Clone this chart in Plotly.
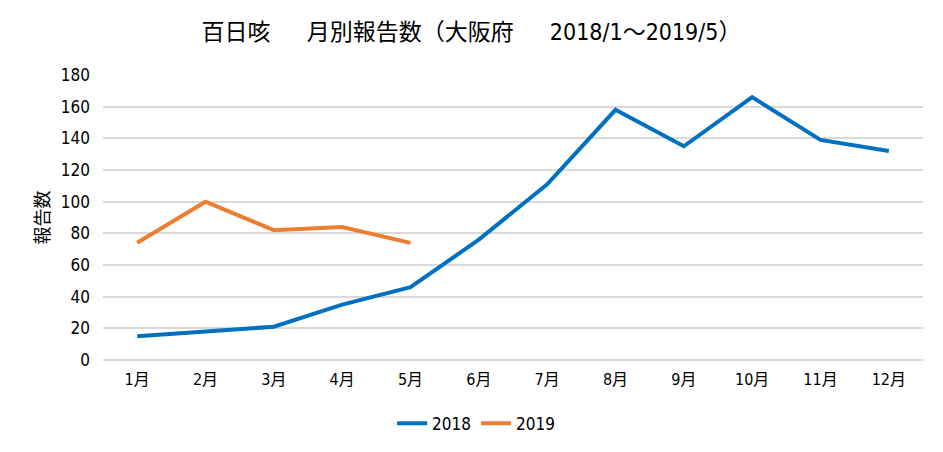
import plotly.graph_objects as go

months = ["1月", "2月", "3月", "4月", "5月", "6月", "7月", "8月", "9月", "10月", "11月", "12月"]
cases_2018 = [15, 18, 21, 35, 46, 76, 111, 158, 135, 166, 139, 132]
months_2019 = ["1月", "2月", "3月", "4月", "5月"]
cases_2019 = [74, 100, 82, 84, 74]
y_ticks = [0, 20, 40, 60, 80, 100, 120, 140, 160, 180]

FONT = "Liberation Sans Narrow, DejaVu Sans Condensed, Noto Sans CJK JP"

fig = go.Figure()
fig.add_trace(go.Scatter(x=months, y=cases_2018, name="2018", mode="lines",
                         line=dict(color="#0070C0", width=4)))
fig.add_trace(go.Scatter(x=months_2019, y=cases_2019, name="2019", mode="lines",
                         line=dict(color="#ED7D31", width=4)))

fig.update_layout(
    width=943, height=452,
    paper_bgcolor="white", plot_bgcolor="white",
    margin=dict(l=103, r=20, t=75, b=92, autoexpand=False),
    font=dict(family=FONT, size=16, color="black"),
    title=dict(text="百日咳\u3000\u00a0\u00a0月別報告数（大阪府\u3000\u00a0\u00a02018/1～2019/5）",
               x=0.5, xanchor="center", y=0.93, yanchor="middle",
               font=dict(family=FONT, size=23, color="black")),
    xaxis=dict(categoryorder="array", categoryarray=months,
               range=[-0.5, 11.5], showgrid=False, showline=False,
               ticks="", tickfont=dict(size=16), automargin=False,
               ticklabelstandoff=8),
    yaxis=dict(range=[0, 180], tickvals=y_ticks, showgrid=True,
               gridcolor="#d9d9d9", gridwidth=1.5, zeroline=True,
               zerolinecolor="#d9d9d9", zerolinewidth=1.5, showline=False,
               ticks="", ticklen=0, tickfont=dict(size=17), automargin=False,
               ticklabelstandoff=12),
    legend=dict(orientation="h", x=0.455, xanchor="center", y=-0.16, yanchor="top",
                font=dict(size=17)),
    annotations=[dict(text="報告数", textangle=-90, xref="paper", yref="paper",
                      x=0, y=0.5, xanchor="center", yanchor="middle", xshift=-61,
                      showarrow=False,
                      font=dict(family=FONT, size=18, color="black"))],
)

fig.write_html("out.html", config={"displayModeBar": False},
               post_script="document.body.style.margin='0';")
